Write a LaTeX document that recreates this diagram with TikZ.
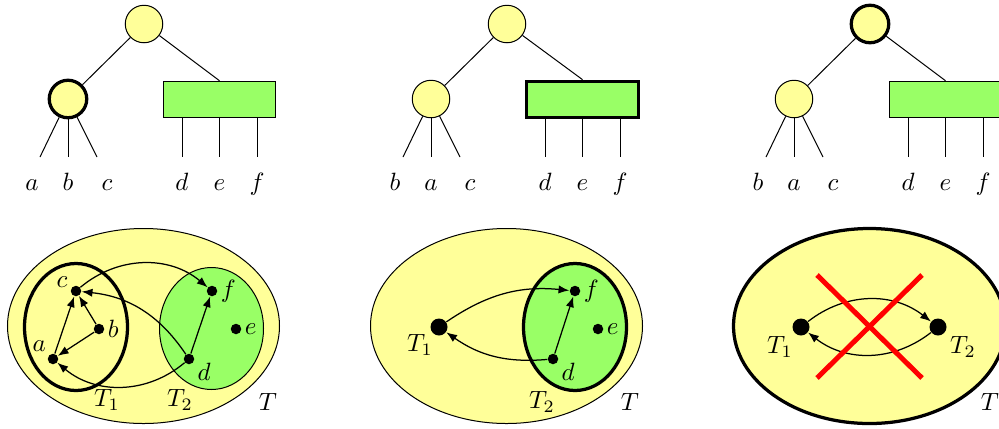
\documentclass[tikz,border=0pt]{standalone}
\usetikzlibrary{arrows.meta}
\definecolor{lemon}{RGB}{255,255,153}
\definecolor{leaf}{RGB}{153,255,102}

\begin{document}
\begin{tikzpicture}[x=.4pt,y=-.4pt,
vtx/.style={circle,draw,fill=lemon,minimum size=15pt,inner sep=0pt},
blk/.style={rectangle,draw,fill=leaf,minimum width=45pt,minimum height=14.6pt,inner sep=0pt},
hot/.style={line width=1.3pt},
dot/.style={circle,fill,minimum size=4.2pt,inner sep=0pt},
bigdot/.style={circle,fill,minimum size=6.8pt,inner sep=0pt},
lab/.style={inner sep=1pt},
arr/.style={-{Latex[length=4.3pt,width=3.3pt]},line width=.5pt},
cross/.style={red,line width=2pt}]

\useasboundingbox(0,0)rectangle(999,428);

% trees
\node[vtx](r1)at(144,24){};
\node[vtx,hot](u1)at(68,99){};
\node[blk](w1)at(219.5,99.5){};
\draw(r1)--(u1);\draw(r1)--(w1.north);
\foreach \lx/\tx/\t [count=\k] in {40/32/a,68/68/b,97/107/c}{\coordinate(p1\k)at(\lx,157);\draw(u1)--(p1\k);\node[anchor=base](t1\k)at(\tx,190){$\t$};}
\foreach \lx/\t [count=\k] in {182/d,219.5/e,257/f}{\coordinate(q1\k)at(\lx,157);\draw(w1.south -| q1\k)--(q1\k);\node[anchor=base](s1\k)at(\lx,190){$\t$};}

\node[vtx](r2)at(507,24){};
\node[vtx](u2)at(431,99){};
\node[blk,hot](w2)at(582.5,99.5){};
\draw(r2)--(u2);\draw(r2)--(w2.north);
\foreach \lx/\tx/\t [count=\k] in {403/395/b,431/431/a,460/470/c}{\coordinate(p2\k)at(\lx,157);\draw(u2)--(p2\k);\node[anchor=base](t2\k)at(\tx,190){$\t$};}
\foreach \lx/\t [count=\k] in {545/d,582.5/e,620/f}{\coordinate(q2\k)at(\lx,157);\draw(w2.south -| q2\k)--(q2\k);\node[anchor=base](s2\k)at(\lx,190){$\t$};}

\node[vtx,hot](r3)at(870,24){};
\node[vtx](u3)at(794,99){};
\node[blk](w3)at(945.5,99.5){};
\draw(r3)--(u3);\draw(r3)--(w3.north);
\foreach \lx/\tx/\t [count=\k] in {766/758/b,794/794/a,823/833/c}{\coordinate(p3\k)at(\lx,157);\draw(u3)--(p3\k);\node[anchor=base](t3\k)at(\tx,190){$\t$};}
\foreach \lx/\t [count=\k] in {908/d,945.5/e,983/f}{\coordinate(q3\k)at(\lx,157);\draw(w3.south -| q3\k)--(q3\k);\node[anchor=base](s3\k)at(\lx,190){$\t$};}

% left set
\draw[fill=lemon](143.5,326)ellipse[x radius=54.4pt,y radius=39pt];
\draw[hot](76,327)ellipse[x radius=20.6pt,y radius=25.4pt];
\draw[fill=leaf](211.5,328.5)ellipse[x radius=20.8pt,y radius=24.4pt];
\node[dot,label={[lab]170:$c$}](c1)at(76,291){};
\node[dot,label={[lab]right:$b$}](b1)at(99,329){};
\node[dot,label={[lab]above left:$a$}](a1)at(53,359){};
\node[dot,label={[lab]-15:$d$}](d1)at(189,359){};
\node[dot,label={[lab]right:$f$}](f1)at(212,291){};
\node[dot,label={[lab]right:$e$}](e1)at(236,329){};
\draw[arr](a1)--(c1);\draw[arr](b1)--(c1);\draw[arr](b1)--(a1);\draw[arr](d1)--(f1);
\draw[arr](c1)to[bend left=40](f1);
\draw[arr](d1)to[bend right=25](c1);
\draw[arr](d1)to[bend left=40](a1);
\node(n11)at(107,400){$T_1$};\node(n12)at(180,400){$T_2$};\node(n13)at(268,402){$T$};

% middle set
\draw[fill=lemon](506.5,326)ellipse[x radius=54.4pt,y radius=39pt];
\draw[hot,fill=leaf](575,327)ellipse[x radius=20.6pt,y radius=25.4pt];
\node[bigdot](g2)at(439,327){};
\node[dot,label={[lab]-15:$d$}](d2)at(553,359){};
\node[dot,label={[lab]right:$f$}](f2)at(575,291){};
\node[dot,label={[lab]right:$e$}](e2)at(598,329){};
\draw[arr](d2)--(f2);
\draw[arr](g2)to[bend left=20](f2);
\draw[arr](d2)to[bend left=20](g2);
\node(n21)at(420,345){$T_1$};\node(n22)at(542,402){$T_2$};\node(n23)at(630,402){$T$};

% right set
\draw[hot,fill=lemon](869.5,326)ellipse[x radius=54.4pt,y radius=39pt];
\node[bigdot](g3)at(801,327){};
\node[bigdot](h3)at(938,327){};
\draw[arr](g3)to[bend left=38](h3);
\draw[arr](h3)to[bend left=38](g3);
\draw[cross](817,275)--(922,378);\draw[cross](922,275)--(817,378);
\node(n31)at(780,347){$T_1$};\node(n32)at(963,347){$T_2$};\node(n33)at(990,402){$T$};
\end{tikzpicture}
\end{document}
